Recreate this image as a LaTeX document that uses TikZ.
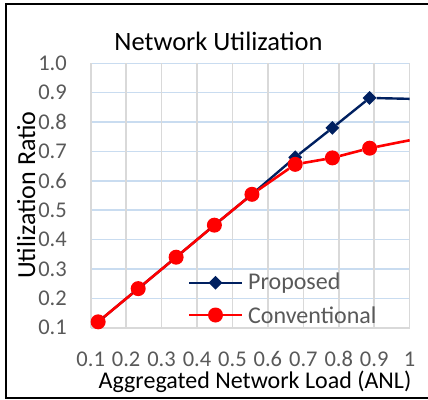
\documentclass[tikz,border=0pt]{standalone}
\usepackage{fontspec}
\setmainfont{Carlito}
\usetikzlibrary{shapes.geometric}
\definecolor{navy}{HTML}{002060}
\definecolor{gridv}{HTML}{D9D9D9}
\definecolor{gridh}{HTML}{C9DCF0}
\definecolor{ticktext}{HTML}{595959}
\tikzset{
  lbl/.style={font=\fontsize{24}{28}\selectfont, inner sep=0pt},
  ticklbl/.style={font=\fontsize{22.5}{26}\selectfont, inner sep=0pt, text=ticktext},
  leglbl/.style={lbl, text=ticktext},
  redpt/.style={circle, fill=red, draw=none, minimum size=15pt, inner sep=0pt},
  bluept/.style={diamond, fill=navy, draw=none, minimum width=14pt, minimum height=14pt, inner sep=0pt},
  redline/.style={draw=red, line width=2.6pt},
  blueline/.style={draw=navy, line width=2.4pt},
}
\begin{document}
\begin{tikzpicture}[x=1pt,y=-1pt]
\useasboundingbox (0,0) rectangle (428,399);
% outer frame (right edge lies outside the picture)
\draw[line width=2pt] (432,4) -- (6,4) -- (6,398) -- (432,398);
% grid
\foreach \k in {1,...,9} {
  \draw[gridh, line width=1.4pt] (90.7,{327.7-\k*29.38}) -- (409.7,{327.7-\k*29.38});
}
\foreach \k in {0,...,9} {
  \draw[gridv, line width=1.6pt] ({90.7+\k*35.44},63.3) -- ({90.7+\k*35.44},327.7);
}
\draw[gridv, line width=1.6pt] (90.7,327.7) -- (409.7,327.7);
% y tick labels
\foreach \k/\t in {0/0.1,1/0.2,2/0.3,3/0.4,4/0.5,5/0.6,6/0.7,7/0.8,8/0.9,9/1.0} {
  \node[ticklbl, anchor=east] (yl\k) at (67,{327.7-\k*29.38}) {\t};
}
% x tick labels
\foreach \k/\t in {0/0.1,1/0.2,2/0.3,3/0.4,4/0.5,5/0.6,6/0.7,7/0.8,8/0.9,9/1} {
  \node[ticklbl] (xl\k) at ({90.7+\k*35.44},359) {\t};
}
% titles
\node[font=\fontsize{26.5}{30}\selectfont, inner sep=0pt, anchor=base] (title) at (218.5,50) {Network Utilization};
\node[lbl, anchor=base] (xtitle) at (255,388) {Aggregated Network Load (ANL)};
\node[font=\fontsize{26}{30}\selectfont, inner sep=0pt, anchor=base, rotate=90] (ytitle) at (35,195) {Utilization Ratio};
% data
\begin{scope}[shift={(55.26,357.08)}]
\begin{scope}[x=354.4pt, y=293.8pt]
  % Proposed
  \node[bluept] (b1) at (0.121,0.12) {};
  \node[bluept] (b2) at (0.234,0.233) {};
  \node[bluept] (b3) at (0.341,0.34) {};
  \node[bluept] (b4) at (0.449,0.449) {};
  \node[bluept] (b5) at (0.555,0.554) {};
  \node[bluept] (b6) at (0.677,0.68) {};
  \node[bluept] (b7) at (0.782,0.78) {};
  \node[bluept] (b8) at (0.887,0.882) {};
  \coordinate (b9) at (1.0,0.879);
  \draw[blueline] (b1) -- (b2) -- (b3) -- (b4) -- (b5) -- (b6) -- (b7) -- (b8) -- (b9);
  % Conventional
  \node[redpt] (r1) at (0.121,0.12) {};
  \node[redpt] (r2) at (0.234,0.233) {};
  \node[redpt] (r3) at (0.341,0.34) {};
  \node[redpt] (r4) at (0.449,0.449) {};
  \node[redpt] (r5) at (0.555,0.554) {};
  \node[redpt] (r6) at (0.677,0.656) {};
  \node[redpt] (r7) at (0.782,0.678) {};
  \node[redpt] (r8) at (0.887,0.711) {};
  \coordinate (r9) at (1.0,0.738);
  \draw[redline] (r1) -- (r2) -- (r3) -- (r4) -- (r5) -- (r6) -- (r7) -- (r8) -- (r9);
\end{scope}
\end{scope}
% legend
\coordinate (lb1) at (189.3,282.7);
\coordinate (lb2) at (241.7,282.7);
\draw[blueline] (lb1) -- (lb2);
\node[bluept] (lbm) at (215.5,282.7) {};
\node[leglbl, anchor=west] (lbt) at (248,282.7) {Proposed};
\coordinate (lr1) at (189.3,315);
\coordinate (lr2) at (241.7,315);
\draw[redline] (lr1) -- (lr2);
\node[redpt] (lrm) at (215.5,315) {};
\node[leglbl, anchor=west] (lrt) at (248,315) {Conventional};
\end{tikzpicture}
\end{document}
